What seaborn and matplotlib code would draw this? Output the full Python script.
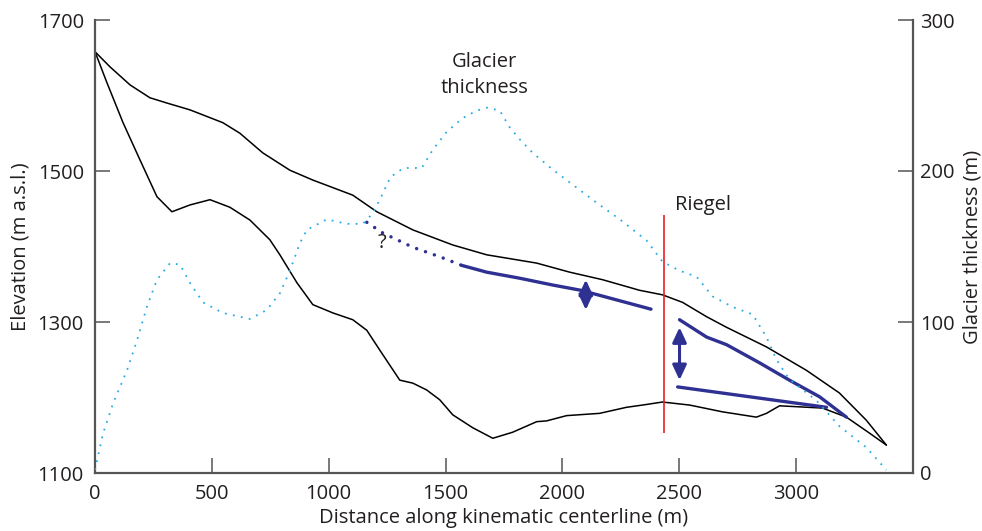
import matplotlib
matplotlib.use("Agg")
import matplotlib.pyplot as plt
import seaborn as sns

# ---------------- data ----------------
surface_x = [0, 64, 150, 235, 308, 406, 547, 620, 718, 834, 932, 1103, 1206, 1360, 1531,
             1676, 1890, 2031, 2172, 2330, 2428, 2514, 2617, 2702, 2873, 3044, 3185, 3300, 3386]
surface_elev = [1658, 1638, 1614, 1597, 1590, 1581, 1564, 1550, 1524, 1501, 1488, 1468, 1446,
                1422, 1402, 1389, 1378, 1366, 1356, 1342, 1336, 1326, 1307, 1293, 1267, 1236,
                1206, 1170, 1137]

bed_x = [0, 51, 120, 192, 265, 329, 406, 492, 577, 663, 748, 791, 864, 932, 1018, 1103,
         1163, 1218, 1304, 1360, 1419, 1475, 1531, 1616, 1702, 1787, 1890, 1932, 2018, 2159,
         2274, 2343, 2428, 2544, 2685, 2830, 2873, 2929, 3113, 3215, 3313, 3386]
bed_elev = [1658, 1617, 1564, 1515, 1466, 1446, 1455, 1462, 1452, 1435, 1409, 1389, 1352,
            1323, 1312, 1303, 1289, 1263, 1223, 1219, 1210, 1197, 1177, 1160, 1146, 1154,
            1168, 1169, 1176, 1179, 1187, 1190, 1194, 1190, 1181, 1174, 1179, 1189, 1186,
            1174, 1153, 1137]

thick_x = [0, 34, 77, 137, 180, 222, 265, 321, 364, 406, 462, 547, 663, 735, 791, 834, 876,
           906, 992, 1077, 1146, 1189, 1231, 1264, 1320, 1398, 1445, 1505, 1573, 1633, 1680,
           1732, 1774, 1817, 1873, 1958, 2061, 2146, 2245, 2360, 2428, 2501, 2574, 2642,
           2728, 2814, 2873, 2916, 2971, 3087, 3185, 3300, 3386]
thick_m = [2, 26, 46, 68, 88, 110, 128, 139, 138, 126, 113, 106, 102, 108, 119, 134, 152,
           161, 168, 165, 165, 172, 185, 196, 202, 202, 214, 226, 235, 240, 242, 240, 229,
           221, 212, 201, 189, 179, 168, 154, 140, 134, 130, 117, 110, 105, 90, 75, 62, 48,
           31, 17, 2]

# inferred level (dotted = uncertain part, solid = observed)
level1_dot_x = [1163, 1231, 1360, 1479, 1569]
level1_dot_elev = [1432, 1418, 1399, 1386, 1375]
level1_x = [1569, 1676, 1817, 1958, 2079, 2379]
level1_elev = [1375, 1366, 1358, 1349, 1342, 1317]
level2_x = [2501, 2617, 2702, 2843, 2971, 3100, 3215]
level2_elev = [1303, 1280, 1270, 1246, 1223, 1201, 1174]
level3_x = [2493, 3130]
level3_elev = [1214, 1187]

# double arrows: x, elev bottom, elev top
arrow_x = [2100, 2501]
arrow_lo = [1316, 1223]
arrow_hi = [1356, 1293]

riegel_x = 2434
riegel_lo, riegel_hi = 1153, 1442

xticks = [0, 500, 1000, 1500, 2000, 2500, 3000]
yticks = [1100, 1300, 1500, 1700]
y2ticks = [0, 100, 200, 300]

# ---------------- style ----------------
sns.set_style("ticks")
plt.rcParams['font.family'] = ['Open Sans', 'DejaVu Sans']
TXT = '#231f20'
SPINE = '#555555'
PURPLE = '#2e3192'
CYAN = '#29abe2'
FS = 14.5

fig = plt.figure(figsize=(9.82, 5.31), dpi=100)
ax = fig.add_axes([95 / 982, (531 - 473) / 531, (913 - 95) / 982, (473 - 20) / 531])
ax2 = ax.twinx()

# thickness on right axis
sns.lineplot(x=thick_x, y=thick_m, ax=ax2, color=CYAN, lw=1.3, sort=False,
             linestyle=(0, (1, 3.5)))

sns.lineplot(x=surface_x, y=surface_elev, ax=ax, color='black', lw=1.1, sort=False)
sns.lineplot(x=bed_x, y=bed_elev, ax=ax, color='black', lw=1.1, sort=False)
ax.vlines(riegel_x, riegel_lo, riegel_hi, color='#ed1c24', lw=1.2)

sns.lineplot(x=level1_dot_x, y=level1_dot_elev, ax=ax, color=PURPLE, lw=2.5, sort=False,
             linestyle=(0, (0.01, 2.7)), dash_capstyle='round')
sns.lineplot(x=level1_x, y=level1_elev, ax=ax, color=PURPLE, lw=2.4, sort=False)
sns.lineplot(x=level2_x, y=level2_elev, ax=ax, color=PURPLE, lw=2.4, sort=False)
sns.lineplot(x=level3_x, y=level3_elev, ax=ax, color=PURPLE, lw=2.4, sort=False)

for xa, lo, hi in zip(arrow_x, arrow_lo, arrow_hi):
    ax.annotate('', xy=(xa, hi), xytext=(xa, lo),
                arrowprops=dict(arrowstyle='<|-|>,head_length=0.9,head_width=0.42',
                                color=PURPLE, lw=2.2, shrinkA=0, shrinkB=0))

ax.text(1667, 1627, 'Glacier\nthickness', ha='center', va='center', fontsize=FS,
        color=TXT, linespacing=1.35)
ax.text(2600, 1455, 'Riegel', ha='center', va='center', fontsize=FS, color=TXT)
ax.text(1227, 1405, '?', ha='center', va='center', fontsize=FS, color=TXT)

ax.set_xlim(0, 3500)
ax.set_ylim(1100, 1700)
ax2.set_ylim(0, 300)
ax.set_xticks(xticks)
ax.set_yticks(yticks)
ax2.set_yticks(y2ticks)

for a in (ax, ax2):
    a.spines['top'].set_visible(False)
    for s in ('left', 'right', 'bottom'):
        a.spines[s].set_color(SPINE)
        a.spines[s].set_linewidth(1.6)
    a.tick_params(direction='in', length=11, width=1.1, color=SPINE,
                  labelsize=FS, labelcolor=TXT)
ax.spines['right'].set_visible(False)
ax2.spines['left'].set_visible(False)
ax2.spines['bottom'].set_visible(False)
ax.tick_params(axis='y', pad=8)
ax.tick_params(axis='x', pad=8)
ax2.tick_params(axis='y', pad=5)

ax.set_xlabel('Distance along kinematic centerline (m)', fontsize=FS, color=TXT, labelpad=3)
ax.set_ylabel('Elevation (m a.s.l.)', fontsize=FS, color=TXT, labelpad=5)
ax2.set_ylabel('Glacier thickness (m)', fontsize=FS, color=TXT, labelpad=6)

fig.savefig('out.png', dpi=100)
